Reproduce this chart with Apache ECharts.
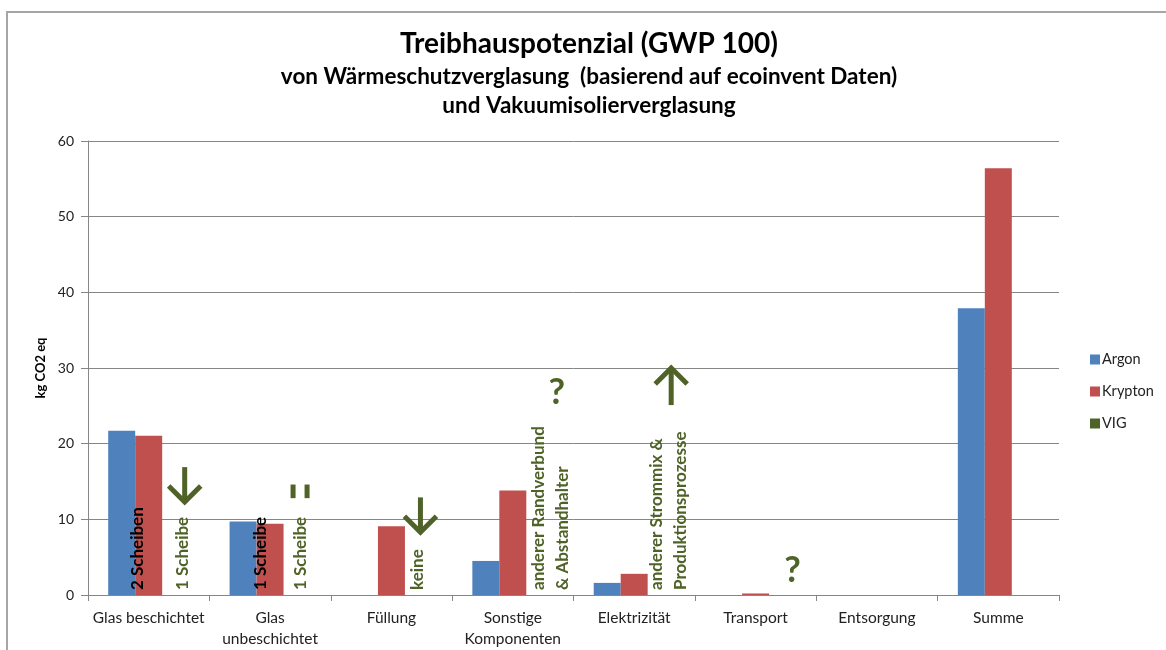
<!DOCTYPE html>
<html>
<head>
<meta charset="utf-8">
<script src="https://cdn.jsdelivr.net/npm/echarts@6/dist/echarts.min.js"></script>
<style>
  html, body { margin: 0; padding: 0; background: #fff; }
  #chart { width: 1166px; height: 650px; }
</style>
</head>
<body>
<div id="chart"></div>
<script>
// Global warming potential per life-cycle stage, kg CO2 eq
const categories = ['Glas beschichtet', 'Glas\nunbeschichtet', 'Füllung', 'Sonstige\nKomponenten',
                    'Elektrizität', 'Transport', 'Entsorgung', 'Summe'];
const argon   = [21.7, 9.7, 0, 4.5, 1.6, 0, 0, 37.9];
const krypton = [21.05, 9.4, 9.1, 13.8, 2.8, 0.2, 0, 56.4];
const vig     = [null, null, null, null, null, null, null, null];
const seriesNames = ['Argon', 'Krypton', 'VIG'];
const yMin = 0, yMax = 60, yStep = 10;

const titleLines = [
  'Treibhauspotenzial (GWP 100)',
  'von Wärmeschutzverglasung  (basierend auf ecoinvent Daten)',
  'und Vakuumisolierverglasung'
];
const yAxisName = 'kg CO2 eq';

// Qualitative notes for the VIG column of each stage
const notes = [
  { cat: 0, kind: 'label', text: '2 Scheiben', dark: true, dx: -11 },
  { cat: 0, kind: 'label', text: '1 Scheibe', dx: 34 },
  { cat: 0, kind: 'down', dx: 36, from: 16.9, to: 12.3 },
  { cat: 1, kind: 'label', text: '1 Scheibe', dark: true, dx: -10 },
  { cat: 1, kind: 'label', text: '1 Scheibe', dx: 30 },
  { cat: 1, kind: 'equal', dx: 30, from: 14.6, to: 12.8 },
  { cat: 2, kind: 'label', text: 'keine', dx: 26 },
  { cat: 2, kind: 'down', dx: 29, from: 12.9, to: 8.3 },
  { cat: 3, kind: 'label', text: 'anderer Randverbund\n& Abstandhalter', dx: 38 },
  { cat: 3, kind: 'sign', text: '?', dx: 44, at: 26.8, size: 36 },
  { cat: 4, kind: 'label', text: 'anderer Strommix &\nProduktionsprozesse', dx: 34 },
  { cat: 4, kind: 'up', dx: 37, from: 25.1, to: 30.0 },
  { cat: 5, kind: 'sign', text: '?', dx: 37, at: 3.2, size: 36 }
];

const FONT = 'Lato, "Open Sans", "DejaVu Sans", sans-serif';
const COLORS = ['#4F81BD', '#C0504D', '#4F6228'];
const GREEN = '#4F6228';
const GRID_GRAY = '#868686';

const chart = echarts.init(document.getElementById('chart'), null, { renderer: 'canvas' });

function centeredText(text, y, size) {
  return { type: 'text', x: 589, y: y, silent: true,
    style: { text: text, fill: '#000', fontFamily: FONT, fontWeight: 'bold', fontSize: size,
             align: 'center', verticalAlign: 'middle', textAlign: 'center', textVerticalAlign: 'middle' } };
}

const baseGraphic = [
  // outer chart frame
  { type: 'polyline', silent: true,
    shape: { points: [[7, 660], [7, 12], [1170, 12]] },
    style: { stroke: '#A6A6A6', lineWidth: 2, fill: null } },
  centeredText(titleLines[0], 44, 28),
  centeredText(titleLines[1], 77, 22.5),
  centeredText(titleLines[2], 106, 22.5)
];

const barSeries = [argon, krypton, vig].map((data, i) => ({
  name: seriesNames[i],
  type: 'bar',
  data: data,
  barGap: '0%',
  barCategoryGap: '33.3%',
  itemStyle: { color: COLORS[i] },
  emphasis: { disabled: true }
}));

chart.setOption({
  animation: false,
  backgroundColor: '#fff',
  grid: { left: 88, right: 107, top: 141, bottom: 55, containLabel: false },
  legend: {
    orient: 'vertical', left: 1085, top: 347,
    itemWidth: 10, itemHeight: 10, itemGap: 17,
    icon: 'rect',
    textStyle: { fontFamily: FONT, fontSize: 14.5, color: '#222', padding: [0, 0, 0, -3] },
    data: seriesNames
  },
  xAxis: {
    type: 'category',
    data: categories,
    axisLine: { lineStyle: { color: GRID_GRAY, width: 1 } },
    axisTick: { show: true, length: 6, lineStyle: { color: GRID_GRAY } },
    axisLabel: { fontFamily: FONT, fontSize: 15.5, color: '#222', margin: 12, lineHeight: 21, interval: 0 }
  },
  yAxis: {
    type: 'value',
    min: yMin, max: yMax, interval: yStep,
    name: yAxisName,
    nameLocation: 'middle',
    nameGap: 35,
    nameTextStyle: { fontFamily: FONT, fontSize: 13, fontWeight: 'bold', color: '#000' },
    axisLine: { show: true, lineStyle: { color: GRID_GRAY, width: 1 } },
    axisTick: { show: true, inside: false, length: 7, lineStyle: { color: GRID_GRAY } },
    axisLabel: { fontFamily: FONT, fontSize: 14, color: '#222', margin: 14 },
    splitLine: { show: true, lineStyle: { color: GRID_GRAY, width: 1 } }
  },
  series: barSeries,
  graphic: baseGraphic
});

// Place the notes next to the bars using the axes' own pixel mapping
function noteGraphics() {
  const out = [];
  const toY = v => chart.convertToPixel({ yAxisIndex: 0 }, v);
  const y0 = toY(0);
  const stroke = { stroke: GREEN, lineWidth: 5, fill: null };
  notes.forEach(n => {
    const cx = chart.convertToPixel({ xAxisIndex: 0 }, n.cat) + n.dx;
    if (n.kind === 'label') {
      out.push({
        type: 'text', x: cx, y: y0 - 5, rotation: Math.PI / 2, silent: true, z: 100,
        style: { text: n.text, fill: n.dark ? '#000' : GREEN, fontFamily: FONT, fontWeight: 'bold',
                 fontSize: 17, lineHeight: 24,
                 align: 'left', verticalAlign: 'middle', textAlign: 'left', textVerticalAlign: 'middle' }
      });
    } else if (n.kind === 'sign') {
      out.push({
        type: 'text', x: cx, y: toY(n.at), silent: true, z: 100,
        style: { text: n.text, fill: GREEN, fontFamily: FONT, fontWeight: 'bold', fontSize: n.size,
                 align: 'center', verticalAlign: 'middle', textAlign: 'center', textVerticalAlign: 'middle' }
      });
    } else if (n.kind === 'equal') {
      // equals sign standing on its side
      [-7, 7].forEach(off => out.push({
        type: 'line', silent: true, z: 100,
        shape: { x1: cx + off, y1: toY(n.from), x2: cx + off, y2: toY(n.to) },
        style: stroke
      }));
    } else {
      const yA = toY(n.from);
      const yB = toY(n.to);
      const dir = yB > yA ? 1 : -1;      // +1 pointing down, -1 pointing up
      const arm = 16;
      out.push({
        type: 'polyline', silent: true, z: 100,
        shape: { points: [[cx, yA], [cx, yB - dir]] },
        style: stroke
      });
      out.push({
        type: 'polyline', silent: true, z: 100,
        shape: { points: [[cx - arm, yB - dir * arm], [cx, yB], [cx + arm, yB - dir * arm]] },
        style: Object.assign({ lineJoin: 'miter' }, stroke)
      });
    }
  });
  return out;
}

chart.setOption({ graphic: baseGraphic.concat(noteGraphics()) }, { replaceMerge: ['graphic'] });
</script>
</body>
</html>
